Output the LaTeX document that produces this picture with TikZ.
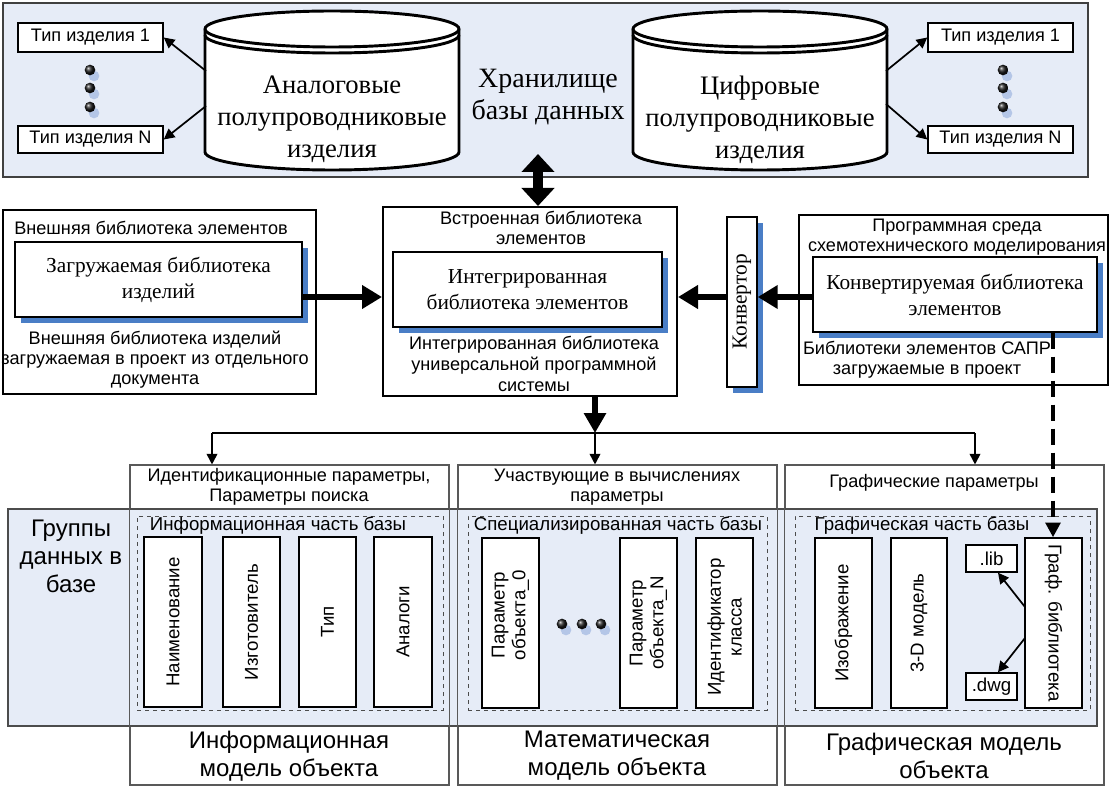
\documentclass[tikz,border=0pt]{standalone}
\usepackage{fontspec}
\setmainfont{Liberation Serif}
\setsansfont{Liberation Sans}
\usetikzlibrary{arrows.meta,calc,fit,shadows}
\definecolor{panel}{HTML}{E6ECF7}
\definecolor{shadowblue}{HTML}{4A7EC6}
\definecolor{dotshadow}{HTML}{B4C6E7}
\begin{document}
\begin{tikzpicture}[x=0.75pt,y=-0.75pt,
 sm/.style={font=\sffamily\fontsize{13.6}{15}\selectfont, align=center, inner sep=0pt},
 md/.style={font=\sffamily\fontsize{14}{15.5}\selectfont, align=center, inner sep=0pt},
 lg/.style={font=\sffamily\fontsize{18}{21}\selectfont, align=center, inner sep=0pt},
 srf/.style={font=\rmfamily\fontsize{16}{19.5}\selectfont, align=center, inner sep=0pt},
 srfbig/.style={font=\rmfamily\fontsize{20}{24}\selectfont, align=center, inner sep=0pt},
 bx/.style={draw=black, line width=1.5pt, fill=white, inner sep=0pt},
 ibx/.style={draw=black, line width=1.1pt, fill=white, inner sep=0pt},
 colbx/.style={draw=black!65, line width=0.8pt, inner sep=0pt},
 dbx/.style={draw=black!70, dashed, line width=0.6pt, inner sep=0pt},
 panelbx/.style={draw=black!75, line width=1pt, fill=panel, inner sep=0pt},
 shd/.style={general shadow={fill=shadowblue, shadow xshift=4.5pt, shadow yshift=-4.5pt}},
 cylline/.style={line width=2.2pt},
 thickarr/.style={line width=4.5pt, -{Triangle[length=15pt,width=17pt]}},
 dblarr/.style={line width=7.5pt, {Triangle[length=13.5pt,width=24pt]}-{Triangle[length=13.5pt,width=24pt]}},
 thinarr/.style={line width=1.3pt, -{Triangle[length=8pt,width=8pt]}},
 dasharr/.style={line width=3pt, dash pattern=on 12pt off 6pt, -{Triangle[length=11pt,width=11pt]}},
 dotshade/.style={fill=dotshadow},
 dotball/.style={ball color=black!90},
]
\useasboundingbox (0,0) rectangle (1112,787);
% ---------------- top panel
\node[panelbx, fit={(3,3) (1088,177)}] (top) {};
% left cylinder
\filldraw[cylline, fill=white] (205,29) -- (205,152) arc[start angle=180, end angle=360, x radius=95.25pt, y radius=13.5pt] -- (459,29) arc[start angle=0, end angle=180, x radius=95.25pt, y radius=13.5pt] -- cycle;
\draw[cylline] (205,29) arc[start angle=180, end angle=360, x radius=95.25pt, y radius=13.5pt];
\draw[cylline] (205,35) arc[start angle=180, end angle=360, x radius=95.25pt, y radius=13.5pt];
\node[srfbig] (cylL) at (332,119.5) {Аналоговые\\полупроводниковые\\изделия};
% right cylinder
\filldraw[cylline, fill=white] (633,29) -- (633,152) arc[start angle=180, end angle=360, x radius=95.25pt, y radius=13.5pt] -- (887,29) arc[start angle=0, end angle=180, x radius=95.25pt, y radius=13.5pt] -- cycle;
\draw[cylline] (633,29) arc[start angle=180, end angle=360, x radius=95.25pt, y radius=13.5pt];
\draw[cylline] (633,35) arc[start angle=180, end angle=360, x radius=95.25pt, y radius=13.5pt];
\node[srfbig] (cylR) at (760,119.5) {Цифровые\\полупроводниковые\\изделия};
\node[srfbig, font=\rmfamily\fontsize{21}{24}\selectfont] (store) at (548,97) {Хранилище\\базы данных};
% type boxes
\node[ibx, fit={(18,23) (163,52)}] (tl1) {};
\node[sm] at (tl1.center) {Тип изделия 1};
\node[ibx, fit={(18,126) (163,153)}] (tlN) {};
\node[sm] at (tlN.center) {Тип изделия N};
\node[ibx, fit={(928,23) (1073,52)}] (tr1) {};
\node[sm] at (tr1.center) {Тип изделия 1};
\node[ibx, fit={(928,126) (1073,153)}] (trN) {};
\node[sm] at (trN.center) {Тип изделия N};
\coordinate (cl1) at (206,71);
\coordinate (clN) at (206,106);
\coordinate (cr1) at (886,71);
\coordinate (crN) at (886,104);
\draw[thinarr] (cl1) -- (tl1.east);
\draw[thinarr] (clN) -- (tlN.east);
\draw[thinarr] (cr1) -- (tr1.west);
\draw[thinarr] (crN) -- (trN.west);
% dots
\foreach \yy in {70,88,107} {
  \fill[dotshade] (94,\yy+6) circle[radius=4pt];
  \shade[dotball] (90,\yy) circle[radius=4pt];
  \fill[dotshade] (1007,\yy+6) circle[radius=4pt];
  \shade[dotball] (1003,\yy) circle[radius=4pt];
}
% ---------------- middle row
\node[bx, fit={(3,210) (316,394)}] (ext) {};
\node[sm] (extT) at (151,228) {Внешняя библиотека элементов};
\node[ibx, shd, fit={(15,242) (302,317)}] (libin) {};
\node[srf] at (libin.center) {Загружаемая библиотека\\изделий};
\node[sm] (extB) at (155,360) {Внешняя библиотека изделий\\загружаемая в проект из отдельного\\документа};

\node[bx, fit={(383,207) (677,396)}] (mid) {};
\node[sm] (midT) at (541,228) {Встроенная библиотека\\элементов};
\node[ibx, shd, fit={(393,252) (662,327)}] (intlib) {};
\node[srf] at (intlib.center) {Интегрированная\\библиотека элементов};
\node[sm, font=\sffamily\fontsize{13.6}{15.75}\selectfont] (midB) at (534,364) {Интегрированная библиотека\\универсальной программной\\системы};

\node[ibx, shd, fit={(727,217) (757,387)}] (conv) {};
\node[srf, rotate=90] at (conv.center) {Конвертор};

\node[bx, fit={(799,215) (1108,385)}] (env) {};
\node[sm] (envT) at (957,237) {Программная среда\\схемотехнического моделирования};
\node[ibx, shd, fit={(813,257) (1097,332)}] (convlib) {};
\node[srf] at (convlib.center) {Конвертируемая библиотека\\элементов};
\node[sm] (envB) at (927,360) {Библиотеки элементов САПР\\загружаемые в проект};

\coordinate (ya) at (0,297);
\draw[thickarr] (libin.east |- ya) -- (mid.west |- ya);
\draw[thickarr] (conv.west |- ya) -- (mid.east |- ya);
\draw[thickarr] (convlib.west |- ya) -- (conv.east |- ya);
\coordinate (xd) at (538,0);
\draw[dblarr] (mid.north -| xd) -- ++(0,-52);
% distribution
\coordinate (xm) at (595,0);
\coordinate (hl) at (212,433);
\coordinate (hm) at (595,433);
\coordinate (hr) at (975,433);
\draw[line width=4pt, -{Triangle[length=15pt,width=16pt]}] (mid.south -| xm) -- (hm);
\draw[line width=1.6pt] (hl) -- (hr);
% ---------------- bottom section
\node[colbx, fill=white, fit={(130,465) (449,785)}] (col1) {};
\node[colbx, fill=white, fit={(458,465) (777,785)}] (col2) {};
\node[colbx, fill=white, fit={(785,465) (1104,785)}] (col3) {};
\draw[thinarr] (hl) -- (hl |- col1.north);
\draw[thinarr] (hm) -- (hm |- col2.north);
\draw[thinarr] (hr) -- (hr |- col3.north);
\node[panelbx, draw=black!70, line width=0.9pt, fit={(8,509) (1097,726)}] (band) {};
\draw[colbx] (col1.south west) rectangle (col1.north east);
\draw[colbx] (col2.south west) rectangle (col2.north east);
\draw[colbx] (col3.south west) rectangle (col3.north east);
\node[lg] (grp) at (71,556) {Группы\\данных в\\базе};

\node[sm] (h1) at (289,487) {Идентификационные параметры,\\Параметры поиска};
\node[sm] (h2) at (617,487) {Участвующие в вычислениях\\параметры};
\node[sm] (h3) at (934,483) {Графические параметры};

\node[lg] (b1) at (289,756) {Информационная\\модель объекта};
\node[lg] (b2) at (617,756) {Математическая\\модель объекта};
\node[lg] (b3) at (944,756) {Графическая модель\\объекта};

\node[dbx, fit={(137,516) (443,710)}] (d1) {};
\node[dbx, fit={(468,516) (767,710)}] (d2) {};
\node[dbx, fit={(795,516) (1090,710)}] (d3) {};
\node[md] (l1) at (278,526) {Информационная часть базы};
\node[md] (l2) at (618,526) {Специализированная часть базы};
\node[md] (l3) at (922,526) {Графическая часть базы};

% info boxes
\node[ibx, fit={(144,537) (202,707)}] (v1) {};
\node[md, rotate=90] at (v1.center) {Наименование};
\node[ibx, fit={(223,537) (280,707)}] (v2) {};
\node[md, rotate=90] at (v2.center) {Изготовитель};
\node[ibx, fit={(299,537) (356,707)}] (v3) {};
\node[md, rotate=90] at (v3.center) {Тип};
\node[ibx, fit={(374,537) (432,707)}] (v4) {};
\node[md, rotate=90] at (v4.center) {Аналоги};
% math boxes
\node[ibx, fit={(482,538) (539,708)}] (m1) {};
\node[md, rotate=90] at ($(m1.center)+(0,-8)$) {Параметр\\объекта\_0};
\node[ibx, fit={(620,538) (677,708)}] (m2) {};
\node[md, rotate=90] at (m2.center) {Параметр\\объекта\_N};
\node[ibx, fit={(696,538) (753,708)}] (m3) {};
\node[md, rotate=90] at ($(m3.center)+(0,4)$) {Идентификатор\\класса};
\foreach \xx in {562,582,601} {
  \fill[dotshade] (\xx+4,630) circle[radius=4pt];
  \shade[dotball] (\xx,624) circle[radius=4pt];
}
% graphic boxes
\node[ibx, fit={(815,538) (872,708)}] (g1) {};
\node[md, rotate=90] at (g1.center) {Изображение};
\node[ibx, fit={(891,538) (947,708)}] (g2) {};
\node[md, rotate=90] at (g2.center) {3-D модель};
\node[ibx, fit={(1025,538) (1082,708)}] (g3) {};
\node[md, rotate=-90] at (g3.center) {Граф. библиотека};
\node[ibx, fit={(966,545) (1017,572)}] (lib) {};
\node[md] at (lib.center) {.lib};
\node[ibx, fit={(966,673) (1017,700)}] (dwg) {};
\node[md] at (dwg.center) {.dwg};
\coordinate (ga) at (1025,607);
\coordinate (gb) at (1025,638);
\draw[thinarr] (ga) -- (lib.south -| 998,0);
\draw[thinarr] (gb) -- (dwg.north -| 998,0);
% dashed connector
\coordinate (xdash) at (1053,0);
\draw[dasharr] (convlib.south -| xdash) -- (g3.north -| xdash);
\end{tikzpicture}
\end{document}
